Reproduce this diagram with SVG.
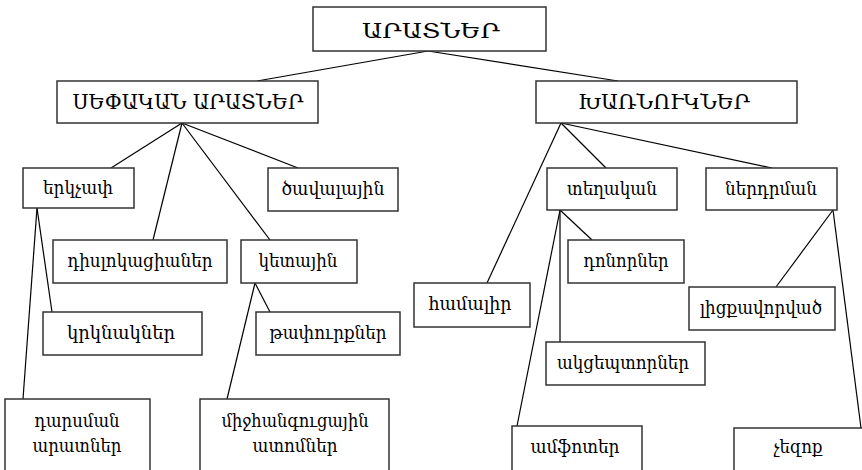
<svg xmlns="http://www.w3.org/2000/svg" width="862" height="470" viewBox="0 0 862 470">
<style>
.b{fill:#fff;stroke:#333;stroke-width:1.5}
.c line{stroke:#000;stroke-width:1.2}
text{font-family:"DejaVu Serif","Noto Sans",serif;fill:#000;text-anchor:middle}
.t{font-size:21px}
.s{font-size:18.5px}
</style>
<rect width="862" height="470" fill="#fff"/>
<g id="connectors" class="c">
<line x1="428" y1="51" x2="257" y2="81"/>
<line x1="428" y1="51" x2="618" y2="81"/>
<line x1="182" y1="123" x2="111" y2="168"/>
<line x1="182" y1="123" x2="298" y2="168"/>
<line x1="182" y1="123" x2="153" y2="240"/>
<line x1="182" y1="123" x2="270" y2="240"/>
<line x1="37" y1="208" x2="52" y2="312"/>
<line x1="37" y1="208" x2="23" y2="399"/>
<line x1="255" y1="283" x2="270" y2="312"/>
<line x1="255" y1="283" x2="227" y2="399"/>
<line x1="561" y1="123" x2="606" y2="168"/>
<line x1="561" y1="123" x2="772" y2="168"/>
<line x1="561" y1="123" x2="487" y2="283"/>
<line x1="560" y1="210" x2="592" y2="240"/>
<line x1="560" y1="210" x2="560" y2="342"/>
<line x1="560" y1="210" x2="517" y2="426"/>
<line x1="833" y1="210" x2="776" y2="287"/>
<line x1="833" y1="210" x2="861" y2="428"/>
</g>
<g id="n-arat"><rect class="b" x="313" y="7" width="233" height="44"/><text class="t" x="431" y="38" textLength="138" lengthAdjust="spacingAndGlyphs">ԱՐԱՏՆԵՐ</text></g>
<g id="n-sepakan"><rect class="b" x="57" y="81" width="261" height="42"/><text class="t" x="188" y="109" textLength="231" lengthAdjust="spacingAndGlyphs">ՍԵՓԱԿԱՆ ԱՐԱՏՆԵՐ</text></g>
<g id="n-kharnurd"><rect class="b" x="536" y="81" width="261" height="42"/><text class="t" x="664" y="109" textLength="172" lengthAdjust="spacingAndGlyphs">ԽԱՌՆՈՒԿՆԵՐ</text></g>
<g id="n-erkchap"><rect class="b" x="23" y="168" width="111" height="40"/><text class="s" x="78" y="194" textLength="70" lengthAdjust="spacingAndGlyphs">երկչափ</text></g>
<g id="n-tsaval"><rect class="b" x="268" y="168" width="130" height="43"/><text class="s" x="333" y="195" textLength="103" lengthAdjust="spacingAndGlyphs">ծավալային</text></g>
<g id="n-disl"><rect class="b" x="53" y="240" width="174" height="43"/><text class="s" x="140" y="267" textLength="145" lengthAdjust="spacingAndGlyphs">դիսլոկացիաներ</text></g>
<g id="n-ketayin"><rect class="b" x="241" y="240" width="116" height="43"/><text class="s" x="298" y="267" textLength="79" lengthAdjust="spacingAndGlyphs">կետային</text></g>
<g id="n-krkn"><rect class="b" x="43" y="312" width="159" height="43"/><text class="s" x="121" y="339" textLength="108" lengthAdjust="spacingAndGlyphs">կրկնակներ</text></g>
<g id="n-tapur"><rect class="b" x="256" y="312" width="144" height="43"/><text class="s" x="328" y="339" textLength="117" lengthAdjust="spacingAndGlyphs">թափուրքներ</text></g>
<g id="n-dars"><rect class="b" x="5" y="399" width="145" height="80"/><text class="s" x="77" y="427" textLength="85" lengthAdjust="spacingAndGlyphs">դարսման</text><text class="s" x="77" y="452" textLength="89" lengthAdjust="spacingAndGlyphs">արատներ</text></g>
<g id="n-mijh"><rect class="b" x="200" y="399" width="189" height="80"/><text class="s" x="295" y="427" textLength="147" lengthAdjust="spacingAndGlyphs">միջհանգուցային</text><text class="s" x="295" y="452" textLength="85" lengthAdjust="spacingAndGlyphs">ատոմներ</text></g>
<g id="n-teghakan"><rect class="b" x="547" y="168" width="130" height="42"/><text class="s" x="612" y="195" textLength="90" lengthAdjust="spacingAndGlyphs">տեղական</text></g>
<g id="n-nerdrman"><rect class="b" x="706" y="168" width="131" height="42"/><text class="s" x="771" y="195" textLength="92" lengthAdjust="spacingAndGlyphs">ներդրման</text></g>
<g id="n-hamalir"><rect class="b" x="414" y="283" width="116" height="44"/><text class="s" x="470" y="310" textLength="83" lengthAdjust="spacingAndGlyphs">համալիր</text></g>
<g id="n-donor"><rect class="b" x="568" y="240" width="116" height="43"/><text class="s" x="626" y="267" textLength="85" lengthAdjust="spacingAndGlyphs">դոնորներ</text></g>
<g id="n-akcep"><rect class="b" x="546" y="342" width="159" height="43"/><text class="s" x="623" y="369" textLength="132" lengthAdjust="spacingAndGlyphs">ակցեպտորներ</text></g>
<g id="n-licq"><rect class="b" x="689" y="287" width="146" height="43"/><text class="s" x="761" y="314" textLength="122" lengthAdjust="spacingAndGlyphs">լիցքավորված</text></g>
<g id="n-amfoter"><rect class="b" x="512" y="426" width="130" height="50"/><text class="s" x="575" y="453" textLength="89" lengthAdjust="spacingAndGlyphs">ամֆոտեր</text></g>
<g id="n-chezoq"><rect class="b" x="734" y="428" width="140" height="50"/><text class="s" x="798" y="453" textLength="49" lengthAdjust="spacingAndGlyphs">չեզոք</text></g>
</svg>
